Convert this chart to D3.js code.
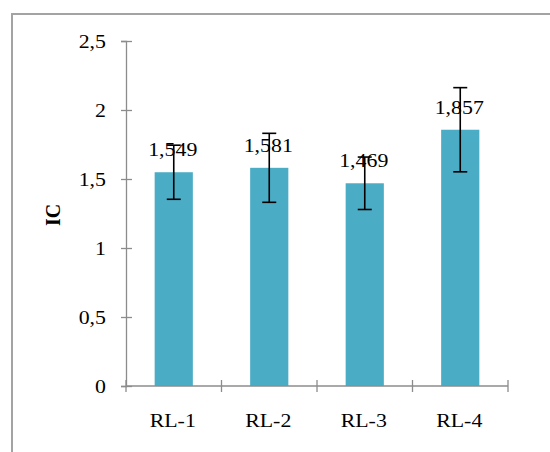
<!DOCTYPE html>
<html>
<head>
<meta charset="utf-8">
<script src="https://cdn.jsdelivr.net/npm/d3@7"></script>
<style>
  html, body { margin: 0; padding: 0; background: #fff; }
  svg { display: block; }
  text { font-family: "Liberation Serif", "Times New Roman", serif; fill: #000; }
</style>
</head>
<body>
<svg id="chart" width="550" height="452"></svg>
<script>
const categories = ["RL-1", "RL-2", "RL-3", "RL-4"];
const values = [1.549, 1.581, 1.469, 1.857];
const errors = [0.196, 0.25, 0.19, 0.305];
const yTicks = [0, 0.5, 1, 1.5, 2, 2.5];
const yTickLabels = ["0", "0,5", "1", "1,5", "2", "2,5"];
const yTitle = "IC";

const svg = d3.select("#chart");
const SX = 1.15;
const FS = 19;
const fmt = v => d3.format(".3f")(v).replace(".", ",");

// outer frame
svg.append("rect")
  .attr("x", 12).attr("y", 14)
  .attr("width", 600).attr("height", 500)
  .attr("fill", "none").attr("stroke", "#a3a3a3").attr("stroke-width", 2);

const y = d3.scaleLinear().domain([0, 2.5]).range([386, 41]);
const x = d3.scaleBand().domain(categories).range([126, 508])
  .paddingInner(0.6).paddingOuter(0.3);

// bars
svg.append("g").selectAll("rect").data(values).join("rect")
  .attr("x", (d, i) => x(categories[i]))
  .attr("y", d => y(d))
  .attr("width", x.bandwidth())
  .attr("height", d => y(0) - y(d))
  .attr("fill", "#4bacc6");

// y axis
const yAxis = svg.append("g").attr("transform", "translate(126,0)")
  .call(d3.axisLeft(y).tickValues(yTicks).tickFormat((d, i) => yTickLabels[i]).tickSize(5).tickPadding(0));
yAxis.select(".domain").attr("stroke", "#8c8c8c").attr("stroke-width", 1.3);
yAxis.selectAll(".tick line").attr("x1", 6).attr("x2", -5).attr("stroke", "#8c8c8c").attr("stroke-width", 1.3);
yAxis.selectAll(".tick text")
  .attr("x", null).attr("dy", null)
  .attr("transform", `translate(-20,6.5) scale(${SX},1)`)
  .attr("font-size", FS)
  .attr("font-family", "Liberation Serif")
  .attr("fill", "#000");

// x axis
const xAxis = svg.append("g").attr("transform", `translate(0,${y(0)})`)
  .call(d3.axisBottom(x).tickSize(0).tickPadding(0));
xAxis.select(".domain").attr("stroke", "#8c8c8c").attr("stroke-width", 1.3).attr("d", "M126,0H508");
xAxis.selectAll(".tick text")
  .attr("y", null).attr("dy", null)
  .attr("transform", `translate(-1,41) scale(${SX},1)`)
  .attr("font-size", FS)
  .attr("font-family", "Liberation Serif")
  .attr("fill", "#000");
// category boundary ticks
const bounds = [126].concat(categories.map(c => x(c) + x.bandwidth() / 2 + x.step() / 2));
xAxis.append("g").selectAll("line").data(bounds).join("line")
  .attr("x1", d => d).attr("x2", d => d)
  .attr("y1", -6).attr("y2", 6)
  .attr("stroke", "#8c8c8c").attr("stroke-width", 1.3);

// data labels
svg.append("g").selectAll("text").data(values).join("text")
  .attr("transform", (d, i) => `translate(${x(categories[i]) + x.bandwidth() / 2 - 1},${y(d) - 16}) scale(${SX},1)`)
  .attr("text-anchor", "middle")
  .attr("font-size", FS)
  .text(d => fmt(d));

// error bars
const eg = svg.append("g").attr("stroke", "#000").attr("stroke-width", 1.6);
values.forEach((v, i) => {
  const cx = x(categories[i]) + x.bandwidth() / 2;
  const top = y(v + errors[i]), bot = y(v - errors[i]);
  eg.append("line").attr("x1", cx).attr("x2", cx).attr("y1", top).attr("y2", bot);
  eg.append("line").attr("x1", cx - 7).attr("x2", cx + 7).attr("y1", top).attr("y2", top);
  eg.append("line").attr("x1", cx - 7).attr("x2", cx + 7).attr("y1", bot).attr("y2", bot);
});

// y title
svg.append("text")
  .attr("transform", "translate(60,215) rotate(-90) scale(1,1.1)")
  .attr("text-anchor", "middle")
  .attr("font-size", 20)
  .attr("font-weight", "bold")
  .text(yTitle);
</script>
</body>
</html>
